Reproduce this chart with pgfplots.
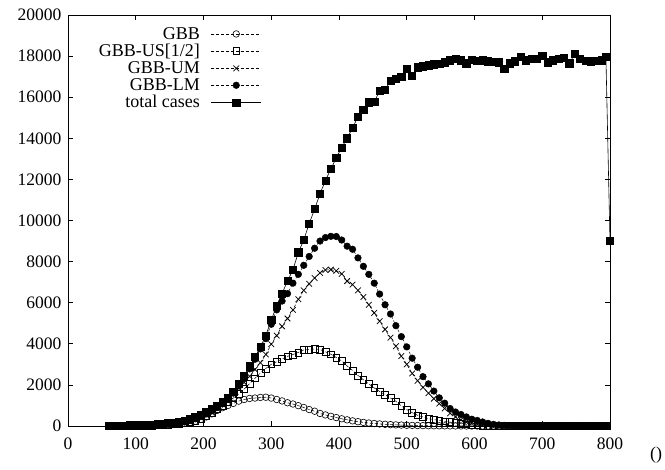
\documentclass[border=0pt]{standalone}
\usepackage{pgfplots}
\pgfplotsset{compat=1.18}
\usepackage{pgfplotstable}
\usepackage{fontspec}
\setmainfont{Liberation Serif}
\pgfplotstableread{
x gbb us um lm
60 3 4 5 5
68 4 5 6 8
76 5 6 8 10
84 6 8 10 12
92 8 10 12 15
100 10 13 15 20
108 13 17 20 25
116 17 22 25 30
124 22 28 32 40
132 30 36 40 50
140 40 48 55 65
148 52 62 70 85
156 70 82 90 110
164 92 108 120 145
172 125 145 160 195
180 170 195 215 260
188 230 265 290 350
196 320 360 390 460
204 440 480 520 590
212 590 640 670 730
220 760 830 850 900
228 890 1000 1050 1090
236 1000 1170 1270 1320
244 1100 1360 1560 1600
252 1210 1560 1850 1950
260 1290 1800 2120 2330
268 1340 2060 2420 2780
276 1360 2320 2750 3250
284 1390 2580 3080 3750
292 1400 2800 3480 4250
300 1360 3000 3980 4950
308 1290 3130 4400 5650
316 1220 3260 4850 6080
324 1130 3390 5230 6440
332 1070 3480 5650 6950
340 990 3580 6170 7380
348 900 3700 6600 7820
356 800 3720 6920 8250
364 720 3750 7200 8650
372 610 3720 7450 9000
380 540 3610 7590 9170
388 470 3490 7610 9230
396 410 3330 7550 9220
404 350 3170 7400 9050
412 300 2920 7050 8750
420 250 2700 6880 8600
428 210 2460 6600 8180
436 175 2250 6280 7770
444 145 2050 5900 7380
452 120 1850 5500 6950
460 100 1680 5100 6420
468 82 1520 4700 5900
476 66 1360 4300 5450
484 54 1200 3880 4880
492 44 980 3400 4350
500 36 800 3000 3850
508 29 650 2560 3300
516 23 520 2200 2860
524 18 440 1880 2400
532 14 360 1600 2050
540 11 310 1330 1700
548 9 270 1090 1370
556 7 230 850 1110
564 5 190 620 850
572 4 150 440 680
580 3 110 300 560
588 2 80 200 440
596 1 55 130 330
604 1 35 80 270
612 0 20 50 195
620 0 12 30 130
628 0 8 15 80
636 0 5 8 50
644 0 3 5 30
652 0 2 3 20
660 0 1 2 12
668 0 0 1 8
676 0 0 0 5
684 0 0 0 3
692 0 0 0 0
700 0 0 0 0
708 0 0 0 0
716 0 0 0 0
724 0 0 0 0
732 0 0 0 0
740 0 0 0 0
748 0 0 0 0
756 0 0 0 0
764 0 0 0 0
772 0 0 0 0
780 0 0 0 0
788 0 0 0 0
796 0 0 0 0
}\gbbdata
\pgfplotstableread{
x t
60 10
68 15
76 20
84 25
92 30
100 40
108 50
116 60
124 75
132 90
140 110
148 140
156 170
164 210
172 260
180 330
188 420
196 530
204 680
212 830
220 1000
228 1150
236 1350
244 1650
252 2050
260 2450
268 2900
276 3350
284 3850
292 4400
300 5150
308 5850
316 6450
324 7050
332 7600
340 8450
348 9050
356 9850
364 10550
372 11300
380 11950
388 12500
396 13050
404 13550
412 14000
420 14500
428 15050
436 15400
444 15750
452 15780
460 16300
468 16350
476 16800
484 16900
492 16980
500 17400
508 17050
516 17450
524 17500
532 17550
540 17600
548 17620
556 17700
564 17800
572 17850
580 17800
588 17650
596 17820
604 17780
612 17800
620 17750
628 17720
636 17700
644 17400
652 17650
660 17750
668 17950
676 17800
684 17850
692 17850
700 18000
708 17700
716 17800
724 17880
732 17900
740 17650
748 18100
756 17850
764 17780
772 17750
780 17780
788 17800
794 17950
800 9000
}\totdata
\begin{document}
\begin{tikzpicture}
\begin{axis}[name=ax,
  scale only axis, width=542pt, height=411pt,
  xmin=0, xmax=800, ymin=0, ymax=20000,
  xtick={0,100,...,800}, ytick={0,2000,...,20000},
  scaled ticks=false,
  tick align=inside, major tick length=5pt,
  /pgf/number format/1000 sep={},
  /pgf/number format/assume math mode=true,
  tick label style={font=\fontsize{17.5}{17.5}\selectfont, black},
  yticklabel style={xshift=-3pt},
  xticklabel style={yshift=-8pt},
  axis line style={line width=0.8pt, black},
  every tick/.style={black, line width=0.6pt},
  xlabel={()},
  xlabel style={at={(axis description cs:1.085,-0.072)}, anchor=center, font=\fontsize{18}{18}\selectfont},
  legend style={at={(axis description cs:0.363,0.978)}, anchor=north east, draw=none, fill=none,
    font=\fontsize{18}{18}\selectfont, row sep=1.5pt, nodes={inner sep=1pt},
    /tikz/every odd column/.style={column sep=10pt}},
  legend cell align=right,
  legend plot pos=right,
  legend image code/.code={\draw[mark repeat=2,mark phase=2,#1] plot coordinates {(0pt,0pt) (25pt,0pt) (50pt,0pt)};},
]
\addplot[black, line width=0.5pt, dash pattern=on 3pt off 2pt, mark=o, mark size=3.3pt, mark options={solid, line width=0.6pt}] table[x=x,y=gbb]{\gbbdata};
\addlegendentry{GBB}
\addplot[black, line width=0.5pt, dash pattern=on 3pt off 2pt, mark=square, mark size=3.4pt, mark options={solid, line width=0.6pt}] table[x=x,y=us]{\gbbdata};
\addlegendentry{GBB-US[1/2]}
\addplot[black, line width=0.5pt, dash pattern=on 3pt off 2pt, mark=x, mark size=4pt, mark options={solid, line width=0.75pt}] table[x=x,y=um]{\gbbdata};
\addlegendentry{GBB-UM}
\addplot[black, line width=0.5pt, dash pattern=on 3pt off 2pt, mark=*, mark size=3.3pt, mark options={solid}] table[x=x,y=lm]{\gbbdata};
\addlegendentry{GBB-LM}
\addplot[black, solid, line width=0.6pt, mark=square*, mark size=3.6pt] table[x=x,y=t]{\totdata};
\addlegendentry{total cases}
\end{axis}
\pgfresetboundingbox
\path (ax.south west) ++(-68pt,-44pt) rectangle ++(665pt,470pt);
\end{tikzpicture}
\end{document}
